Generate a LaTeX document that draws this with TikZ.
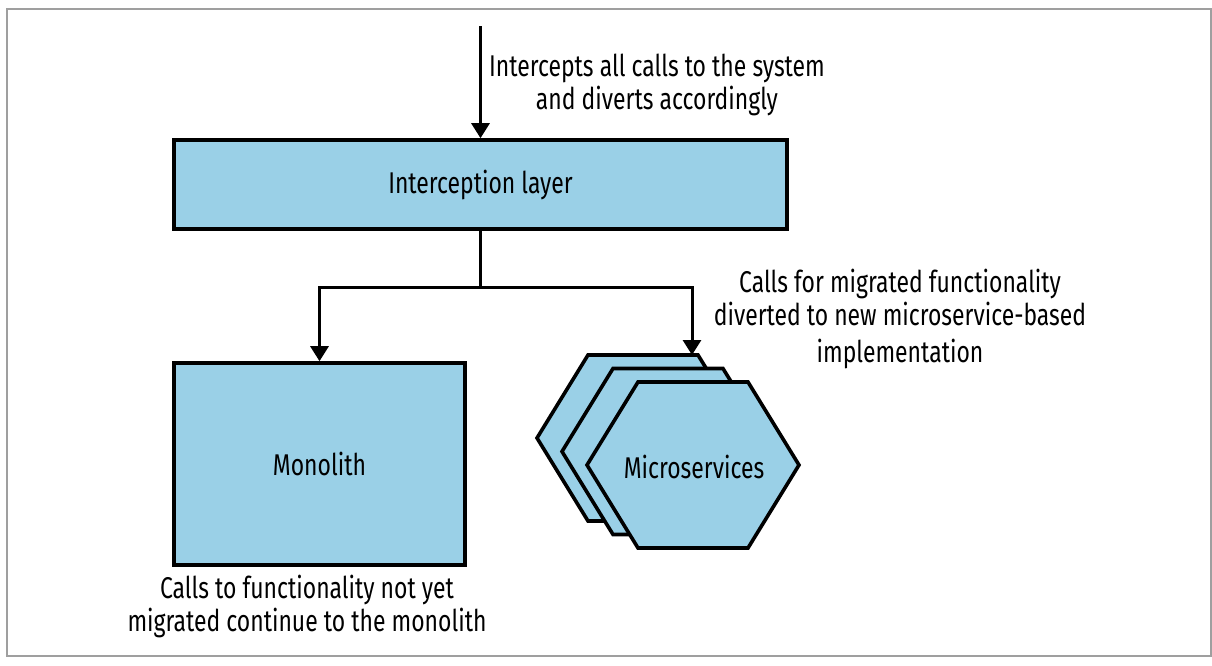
\documentclass[tikz,border=0pt]{standalone}
\usepackage{fontspec}
\setmainfont{Fira Sans}[FakeStretch=0.765]
\usetikzlibrary{arrows.meta}
\definecolor{myblue}{RGB}{154,208,231}

\begin{document}
\begin{tikzpicture}[x=0.5pt,y=-0.5pt,font=\fontsize{15}{16.5}\selectfont]

	\tikzstyle{mybox}=[draw=black,line width=1.8pt,fill=myblue,inner sep=0pt]
	\tikzstyle{myline}=[line width=1.5pt]
	\tikzstyle{myarrow}=[myline,-{Triangle[width=9pt,length=7.5pt]}]
	\tikzstyle{mytext}=[align=center,inner sep=0pt]

	\useasboundingbox (0,0) rectangle (1212,665);
	\draw[gray!75,line width=1.1pt] (7,9) rectangle (1211,656);

	% boxes
	\node[mybox,minimum width=306.5pt,minimum height=44.5pt] (intercept) at (480.5,184.5) {Interception layer};
	\node[mybox,minimum width=145.5pt,minimum height=101pt] (monolith) at (319.5,464) {Monolith};

	\foreach \i in {2,1,0}{
		\draw[mybox,shift={({693-25*\i},{465-13.5*\i})}] (-106,0) -- (-55,-83) -- (55,-83) -- (106,0) -- (55,83) -- (-55,83) -- cycle;
	}
	\node[mytext] (micro) at (694,467) {Microservices};

	% labels
	\node[mytext] (calllabel) at (657,85) {Intercepts all calls to the system\\and diverts accordingly};
	\node[mytext] (migratedlabel) at (900,319) {Calls for migrated functionality\\diverted to new microservice-based\\[2pt]implementation};
	\node[mytext] (legacylabel) at (307,606) {Calls to functionality not yet\\migrated continue to the monolith};

	% connectors
	\coordinate (entry) at (480.5,26);
	\coordinate (split) at (480.5,287);
	\coordinate (microtop) at (692,355);
	\draw[myarrow] (entry) -- (intercept.north);
	\draw[myline] (intercept.south) -- (split);
	\draw[myarrow] (split) -| (monolith.north);
	\draw[myarrow] (split) -| (microtop);
\end{tikzpicture}
\end{document}
